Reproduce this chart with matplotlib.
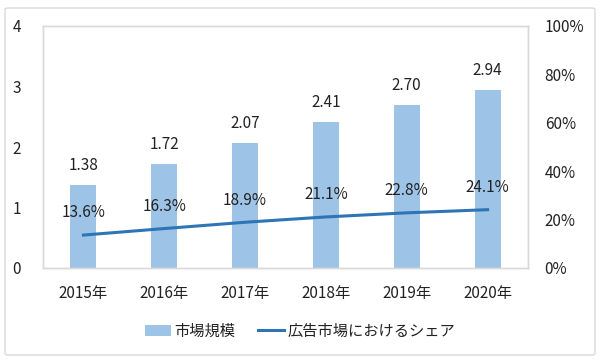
import matplotlib
matplotlib.use("Agg")
import matplotlib.pyplot as plt
from matplotlib.patches import FancyBboxPatch, Patch
from matplotlib.lines import Line2D
import numpy as np

plt.rcParams['font.family'] = ['Noto Sans CJK JP', 'DejaVu Sans']

years = ["2015年", "2016年", "2017年", "2018年", "2019年", "2020年"]
market_size = [1.38, 1.72, 2.07, 2.41, 2.70, 2.94]
share = [13.6, 16.3, 18.9, 21.1, 22.8, 24.1]
left_ticks = [0, 1, 2, 3, 4]
right_ticks = [0, 20, 40, 60, 80, 100]

bar_color = "#9DC3E6"
line_color = "#2E75B6"
grid_gray = "#D9D9D9"
text_color = "#222222"
fs = 11

fig = plt.figure(figsize=(6, 3.61), dpi=100)
fig.patches.append(FancyBboxPatch((5/600, 6/361), 590/600, 347/361,
                                  boxstyle="round,pad=0,rounding_size=0.005",
                                  transform=fig.transFigure, fill=False,
                                  edgecolor=grid_gray, linewidth=1))

ax = fig.add_axes([43/600, 93/361, 485/600, 242/361])
x = np.arange(len(years))
ax.bar(x, market_size, width=0.32, color=bar_color, zorder=2)
ax.set_xlim(-0.5, len(years) - 0.5)
ax.set_ylim(0, 4)
ax.set_yticks(left_ticks)
ax.set_yticklabels([str(t) for t in left_ticks])
ax.set_xticks(x)
ax.set_xticklabels(years)
for s in ax.spines.values():
    s.set_color(grid_gray)
    s.set_linewidth(1)
ax.tick_params(axis='y', length=0, pad=16, labelsize=fs, labelcolor=text_color)
ax.tick_params(axis='x', length=0, pad=12, labelsize=fs, labelcolor=text_color)

for xi, v in zip(x, market_size):
    ax.annotate(f"{v:.2f}", (xi, v), xytext=(0, 14), textcoords='offset points',
                ha='center', va='center', fontsize=fs, color=text_color, zorder=4)

ax2 = ax.twinx()
ax2.plot(x, share, color=line_color, linewidth=2.2, zorder=3)
ax2.set_ylim(0, 100)
ax2.set_yticks(right_ticks)
ax2.set_yticklabels([f"{t}%" for t in right_ticks])
ax2.tick_params(axis='y', length=0, pad=12, labelsize=fs, labelcolor=text_color)
for s in ax2.spines.values():
    s.set_color(grid_gray)
    s.set_linewidth(1)

for xi, v in zip(x, share):
    ax2.annotate(f"{v:.1f}%", (xi, v), xytext=(0, 16), textcoords='offset points',
                 ha='center', va='center', fontsize=fs, color=text_color, zorder=4)

handles = [Patch(facecolor=bar_color, edgecolor='none', label="市場規模"),
           Line2D([0], [0], color=line_color, linewidth=2.2, label="広告市場におけるシェア")]
fig.legend(handles=handles, loc='center', bbox_to_anchor=(0.5, 1 - 331/361), ncol=2,
           frameon=False, fontsize=fs, handlelength=1.7, handleheight=0.7,
           handletextpad=0.2, columnspacing=1.5, labelcolor=text_color)

fig.savefig("out.png", dpi=100)
